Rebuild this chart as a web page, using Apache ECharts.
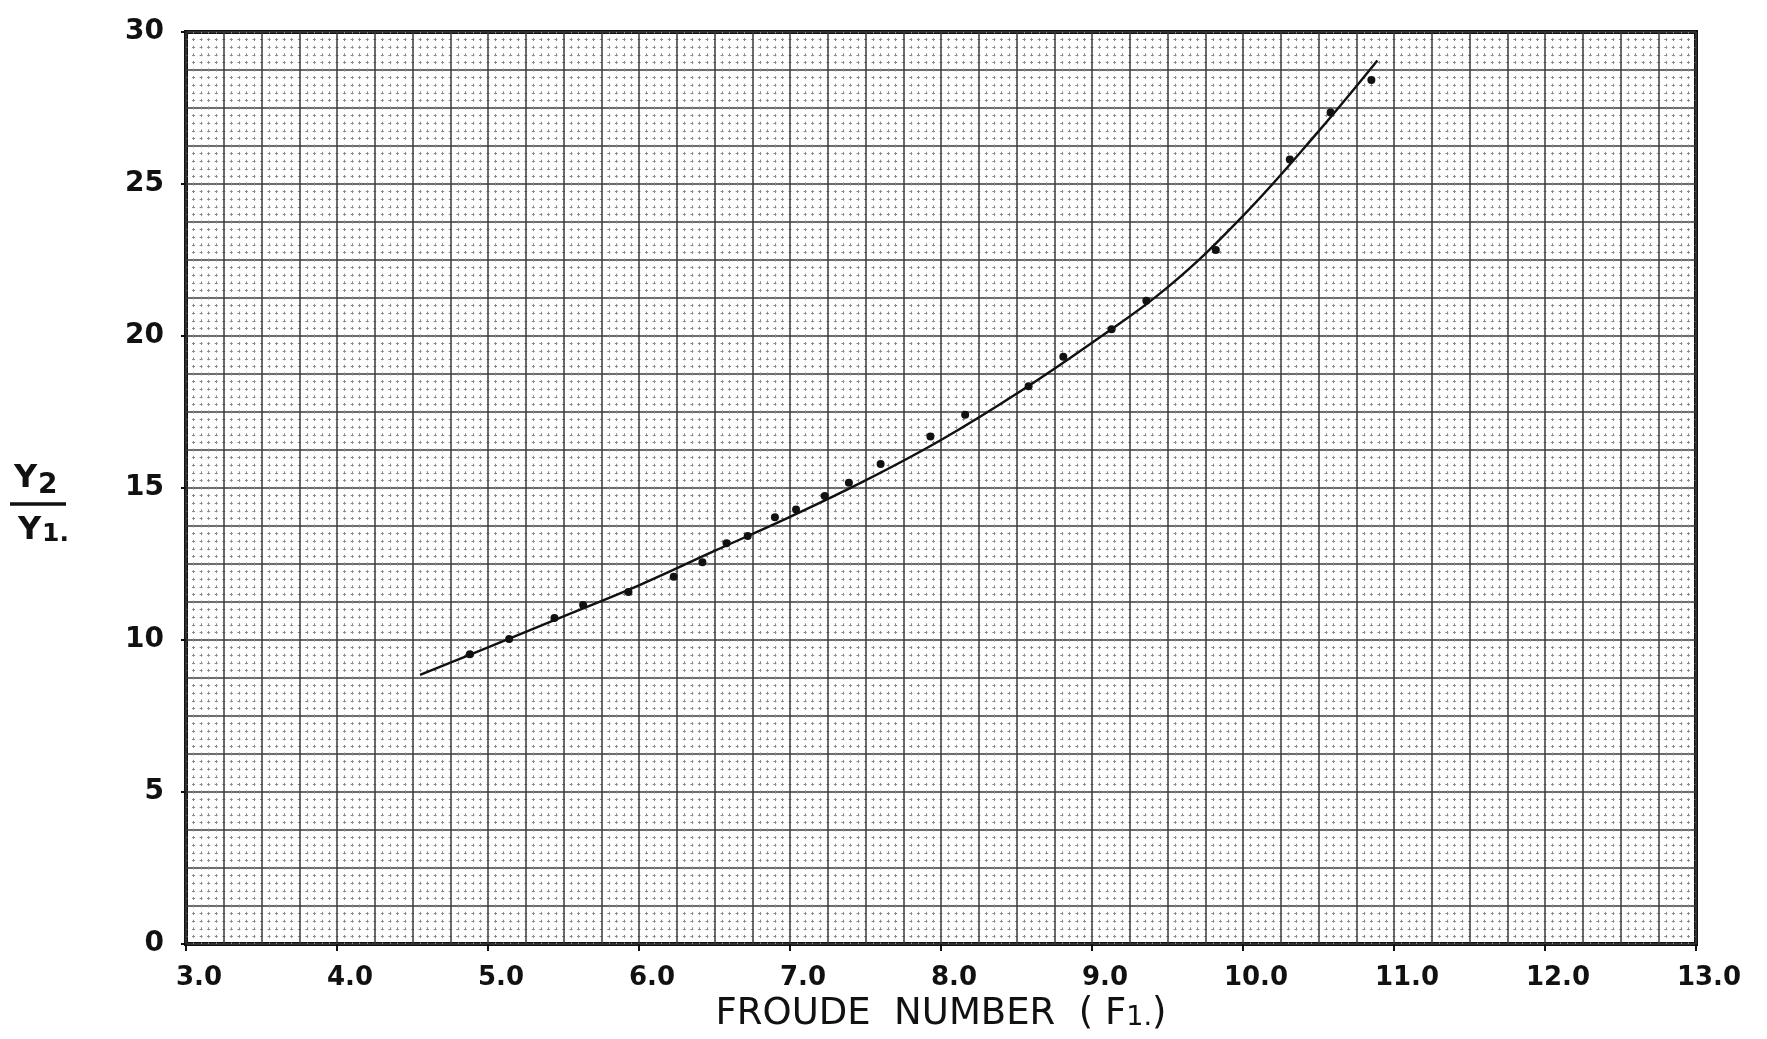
<!DOCTYPE html>
<html>
<head>
<meta charset="utf-8">
<script src="https://cdn.jsdelivr.net/npm/echarts@6/dist/echarts.min.js"></script>
<style>
html,body{margin:0;padding:0;background:#fff;}
#chart{width:1767px;height:1039px;}
</style>
</head>
<body>
<div id="chart"></div>
<script>
// ---- data ----
const xTickValues = [3, 4, 5, 6, 7, 8, 9, 10, 11, 12, 13];
const xTickLabels = ['3.0', '4.0', '5.0', '6.0', '7.0', '8.0', '9.0', '10.0', '11.0', '12.0', '13.0'];
const yTickValues = [0, 5, 10, 15, 20, 25, 30];
const yTickLabels = ['0', '5', '10', '15', '20', '25', '30'];

// measured points (Froude number F1, depth ratio Y2/Y1)
const pointF = [4.88, 5.14, 5.44, 5.63, 5.93, 6.23, 6.42, 6.58, 6.72, 6.90, 7.04, 7.23, 7.39, 7.60, 7.93, 8.16, 8.58, 8.81, 9.13, 9.36, 9.82, 10.31, 10.58, 10.85];
const pointRatio = [9.53, 10.03, 10.72, 11.15, 11.58, 12.08, 12.56, 13.18, 13.42, 14.04, 14.29, 14.74, 15.17, 15.79, 16.69, 17.41, 18.35, 19.32, 20.22, 21.16, 22.83, 25.81, 27.35, 28.42];

// hand-drawn fitted curve
const curveF = [4.55, 5.00, 5.50, 6.00, 6.50, 7.00, 7.50, 8.00, 8.50, 9.00, 9.50, 10.00, 10.50, 10.89];
const curveRatio = [8.85, 9.76, 10.78, 11.80, 12.93, 14.05, 15.25, 16.58, 18.10, 19.78, 21.60, 23.95, 26.73, 29.06];

const xTitle = ['FROUDE  NUMBER  ( F', '1.', ')'];

// ---- chart ----
const chart = echarts.init(document.getElementById('chart'));
const ink = '#111';
const FONT = '"DejaVu Sans", sans-serif';
const heavy = { color: '#3a3a3a', width: 1.5 };

function lookup(vals, labels) {
  return function (v) {
    const i = vals.findIndex(t => Math.abs(t - v) < 1e-6);
    return i >= 0 ? labels[i] : '';
  };
}

chart.setOption({
  backgroundColor: '#fff',
  animation: false,
  grid: {
    left: 186, right: 71, top: 32, bottom: 95,
    outerBoundsMode: 'none', containLabel: false,
    show: true, borderColor: ink, borderWidth: 4, backgroundColor: 'transparent'
  },
  xAxis: [
    {
      type: 'value', min: 3, max: 13, interval: 1, position: 'bottom',
      axisLine: { show: false },
      axisTick: { show: true, length: 7, lineStyle: { color: ink, width: 2 } },
      axisLabel: {
        formatter: lookup(xTickValues, xTickLabels),
        color: ink, fontFamily: FONT, fontWeight: 'bold', fontSize: 26, margin: 21,
        padding: [0, 0, 0, 26]
      },
      splitLine: { show: false },
      name: '{a|' + xTitle[0] + '}{s|' + xTitle[1] + '}{a|' + xTitle[2] + '}',
      nameLocation: 'middle', nameGap: 50,
      nameTextStyle: {
        color: ink, fontFamily: FONT, fontSize: 37,
        rich: {
          a: { color: ink, fontFamily: FONT, fontSize: 37 },
          s: { color: ink, fontFamily: FONT, fontSize: 27, padding: [8, 0, 0, 0] }
        }
      }
    },
    {
      type: 'value', min: 3, max: 13, interval: 0.25, position: 'top',
      axisLine: { show: false }, axisTick: { show: false }, axisLabel: { show: false },
      splitLine: { show: true, lineStyle: heavy },
      minorTick: { show: false, splitNumber: 5 },
      minorSplitLine: { show: true, lineStyle: { color: '#8a8a8a', width: 1, type: [3, 4.6], dashOffset: 1.5 } }
    }
  ],
  yAxis: [
    {
      type: 'value', min: 0, max: 30, interval: 5, position: 'left',
      axisLine: { show: false },
      axisTick: { show: true, length: 5, lineStyle: { color: ink, width: 2 } },
      axisLabel: {
        formatter: lookup(yTickValues, yTickLabels),
        color: ink, fontFamily: FONT, fontWeight: 'bold', fontSize: 28, margin: 22
      },
      splitLine: { show: false }
    },
    {
      type: 'value', min: 0, max: 30, interval: 1.25, position: 'right',
      axisLine: { show: false }, axisTick: { show: false }, axisLabel: { show: false },
      splitLine: { show: true, lineStyle: heavy },
      minorTick: { show: false, splitNumber: 5 },
      minorSplitLine: { show: true, lineStyle: { color: '#8a8a8a', width: 1, type: [3, 4.55], dashOffset: 1.5 } }
    }
  ],
  graphic: [
    { type: 'text', left: 14, top: 463, style: { text: 'Y', font: 'bold 32px ' + FONT, fill: ink } },
    { type: 'text', left: 38, top: 472, style: { text: '2', font: 'bold 28px ' + FONT, fill: ink } },
    { type: 'line', shape: { x1: 10, y1: 504, x2: 66, y2: 504 }, style: { stroke: ink, lineWidth: 3.5 } },
    { type: 'text', left: 18, top: 515, style: { text: 'Y', font: 'bold 32px ' + FONT, fill: ink } },
    { type: 'text', left: 42, top: 522, style: { text: '1.', font: 'bold 25px ' + FONT, fill: ink } }
  ],
  series: [
    {
      type: 'line', name: 'curve', smooth: 0.4, symbol: 'none',
      xAxisIndex: 0, yAxisIndex: 0,
      lineStyle: { color: ink, width: 2.4 },
      data: curveF.map((f, i) => [f, curveRatio[i]]),
      z: 5
    },
    {
      type: 'scatter', name: 'points', symbol: 'circle', symbolSize: 8,
      xAxisIndex: 0, yAxisIndex: 0,
      itemStyle: { color: ink, opacity: 1 },
      data: pointF.map((f, i) => [f, pointRatio[i]]),
      z: 6
    }
  ]
});
</script>
</body>
</html>
